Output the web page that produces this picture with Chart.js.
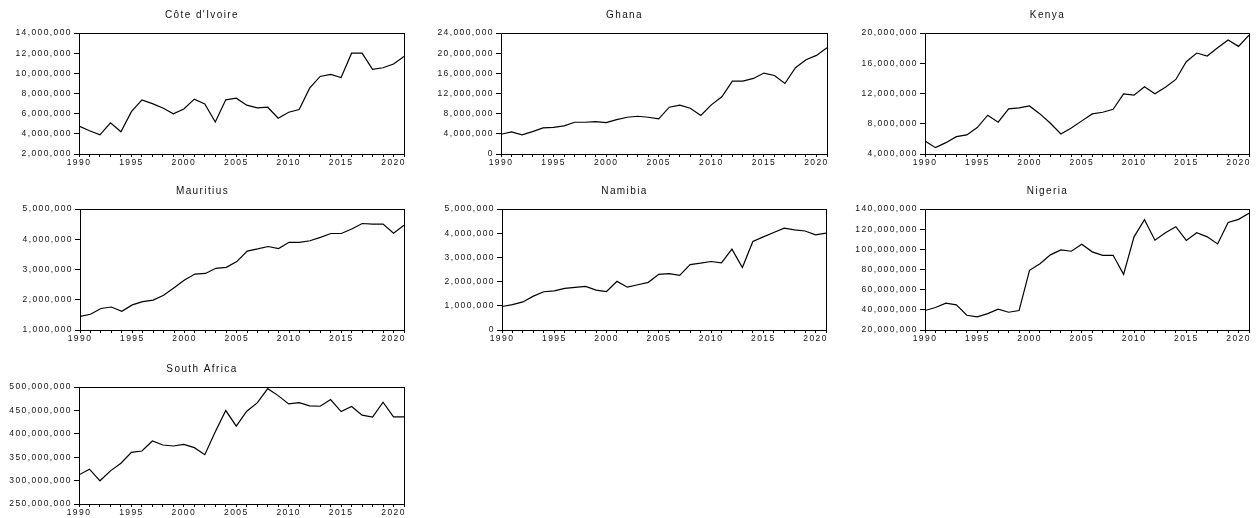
<!DOCTYPE html>
<html>
<head>
<meta charset="utf-8">
<script src="https://cdn.jsdelivr.net/npm/chart.js@4"></script>
<style>
  body { margin: 0; background: #fff; width: 1256px; height: 518px; position: relative; overflow: hidden; }
  canvas { position: absolute; }
</style>
</head>
<body>
<script>
const years = [1990, 1991, 1992, 1993, 1994, 1995, 1996, 1997, 1998, 1999, 2000, 2001, 2002, 2003, 2004, 2005,
               2006, 2007, 2008, 2009, 2010, 2011, 2012, 2013, 2014, 2015, 2016, 2017, 2018, 2019, 2020, 2021];
const yearLabels = [1990, 1995, 2000, 2005, 2010, 2015, 2020];

const coteDIvoire = [4780000, 4300000, 3900000, 5100000, 4200000, 6200000, 7370000, 7000000, 6570000, 5980000, 6470000,
    7440000, 6970000, 5180000, 7370000, 7530000, 6840000, 6570000, 6640000, 5550000, 6140000, 6410000, 8530000,
    9690000, 9890000, 9590000, 12000000, 12000000, 10390000, 10550000, 10920000, 11680000];
const ghana = [3910000, 4380000, 3780000, 4440000, 5170000, 5300000, 5570000, 6300000, 6300000, 6430000, 6230000,
    6830000, 7290000, 7490000, 7290000, 6960000, 9280000, 9680000, 9080000, 7630000, 9750000, 11340000, 14460000,
    14460000, 14990000, 16050000, 15580000, 13990000, 17100000, 18700000, 19560000, 21090000];
const kenya = [5720000, 4840000, 5500000, 6300000, 6520000, 7490000, 9130000, 8200000, 9970000, 10100000, 10360000,
    9300000, 8070000, 6650000, 7450000, 8380000, 9300000, 9520000, 9920000, 11960000, 11780000, 12880000, 11960000,
    12840000, 13860000, 16200000, 17350000, 16950000, 18050000, 19070000, 18230000, 19730000];
const mauritius = [1450000, 1520000, 1710000, 1760000, 1620000, 1830000, 1940000, 1990000, 2150000, 2400000, 2650000,
    2850000, 2870000, 3040000, 3070000, 3260000, 3610000, 3680000, 3760000, 3690000, 3900000, 3900000, 3950000,
    4060000, 4190000, 4190000, 4340000, 4520000, 4500000, 4500000, 4200000, 4460000];
const namibia = [970000, 1050000, 1160000, 1400000, 1580000, 1620000, 1720000, 1760000, 1800000, 1650000, 1590000,
    2010000, 1770000, 1870000, 1970000, 2300000, 2330000, 2260000, 2700000, 2760000, 2830000, 2770000, 3340000,
    2580000, 3660000, 3850000, 4030000, 4210000, 4140000, 4090000, 3930000, 4000000];
const nigeria = [39300000, 42300000, 46600000, 44900000, 34600000, 33000000, 36300000, 40600000, 37600000, 39300000,
    79200000, 85800000, 94500000, 99500000, 98100000, 105100000, 97500000, 94100000, 94100000, 75200000, 112400000,
    129400000, 109100000, 116400000, 122400000, 108800000, 116400000, 112400000, 105400000, 126700000, 129700000, 135700000];
const southAfrica = [312300000, 324400000, 299600000, 320800000, 337100000, 360500000, 363300000, 384600000, 376100000,
    373900000, 377500000, 370400000, 355500000, 404400000, 449700000, 416400000, 448300000, 466000000, 496500000,
    481600000, 463900000, 466700000, 459600000, 458900000, 473100000, 447600000, 458200000, 439800000, 435600000,
    467400000, 436300000, 436300000];

// axis ranges: [min, max, step]
const coteRange = [2000000, 14000000, 2000000];
const ghanaRange = [0, 24000000, 4000000];
const kenyaRange = [4000000, 20000000, 4000000];
const mauritiusRange = [1000000, 5000000, 1000000];
const namibiaRange = [0, 5000000, 1000000];
const nigeriaRange = [20000000, 140000000, 20000000];
const southAfricaRange = [250000000, 500000000, 50000000];

// plot area boxes on the page: left, right, top, bottom
const panels = [
    { title: "Côte d'Ivoire", values: coteDIvoire, range: coteRange, box: [79, 404, 33, 154] },
    { title: 'Ghana', values: ghana, range: ghanaRange, box: [501, 827, 33, 154] },
    { title: 'Kenya', values: kenya, range: kenyaRange, box: [925, 1249, 33, 154] },
    { title: 'Mauritius', values: mauritius, range: mauritiusRange, box: [80, 404, 209, 330] },
    { title: 'Namibia', values: namibia, range: namibiaRange, box: [502, 826, 209, 330] },
    { title: 'Nigeria', values: nigeria, range: nigeriaRange, box: [925, 1249, 209, 330] },
    { title: 'South Africa', values: southAfrica, range: southAfricaRange, box: [79, 404, 387, 504] }
];

const Y_AXIS_W = 79, TITLE_H = 24, X_AXIS_H = 20, PAD_R = 4;

Chart.defaults.font.family = "'Liberation Sans', Arial, sans-serif";
Chart.defaults.font.size = 8.5;
Chart.defaults.color = '#111';

// EViews-style wide text
const spacing = {
    id: 'spacing',
    beforeUpdate(chart) { chart.ctx.letterSpacing = '1.4px'; },
    beforeDraw(chart) { chart.ctx.letterSpacing = '1.4px'; }
};

// box around the plot area
const frame = {
    id: 'frame',
    afterDraw(chart) {
        const { ctx, chartArea: a } = chart;
        ctx.save();
        ctx.strokeStyle = '#000';
        ctx.lineWidth = 1;
        ctx.strokeRect(Math.round(a.left) + 0.5, Math.round(a.top) + 0.5,
            Math.round(a.right - a.left), Math.round(a.bottom - a.top));
        ctx.restore();
    }
};

panels.forEach(p => {
    const [l, r, t, b] = p.box;
    const canvas = document.createElement('canvas');
    canvas.width = (r - l) + Y_AXIS_W + PAD_R;
    canvas.height = TITLE_H + (b - t) + X_AXIS_H;
    canvas.style.left = (l - Y_AXIS_W) + 'px';
    canvas.style.top = (t - TITLE_H) + 'px';
    document.body.appendChild(canvas);

    new Chart(canvas, {
        type: 'line',
        data: {
            datasets: [{
                data: years.map((yr, i) => ({ x: yr, y: p.values[i] })),
                borderColor: '#000',
                borderWidth: 1.2,
                pointRadius: 0,
                tension: 0,
                fill: false
            }]
        },
        options: {
            responsive: false,
            animation: false,
            devicePixelRatio: 1,
            layout: { padding: { left: 0, right: PAD_R, top: 0, bottom: 0 } },
            plugins: {
                legend: { display: false },
                tooltip: { enabled: false },
                title: {
                    display: true,
                    text: p.title,
                    color: '#111',
                    font: { size: 10, weight: 'normal', lineHeight: 1.2 },
                    padding: { top: 0, bottom: 12 }
                }
            },
            scales: {
                x: {
                    type: 'linear',
                    min: years[0],
                    max: years[years.length - 1],
                    afterFit(scale) { scale.height = X_AXIS_H; },
                    afterBuildTicks(scale) { scale.ticks = years.map(v => ({ value: v })); },
                    ticks: {
                        autoSkip: false,
                        maxRotation: 0,
                        padding: 1,
                        callback: v => yearLabels.includes(v) ? String(v) : ''
                    },
                    grid: { display: true, drawOnChartArea: false, drawTicks: true, tickLength: 3, color: '#000' },
                    border: { display: false }
                },
                y: {
                    min: p.range[0],
                    max: p.range[1],
                    afterFit(scale) { scale.width = Y_AXIS_W; },
                    ticks: { stepSize: p.range[2], padding: 2 },
                    grid: { display: true, drawOnChartArea: false, drawTicks: true, tickLength: 5, color: '#000' },
                    border: { display: false }
                }
            }
        },
        plugins: [spacing, frame]
    });
});
</script>
</body>
</html>
